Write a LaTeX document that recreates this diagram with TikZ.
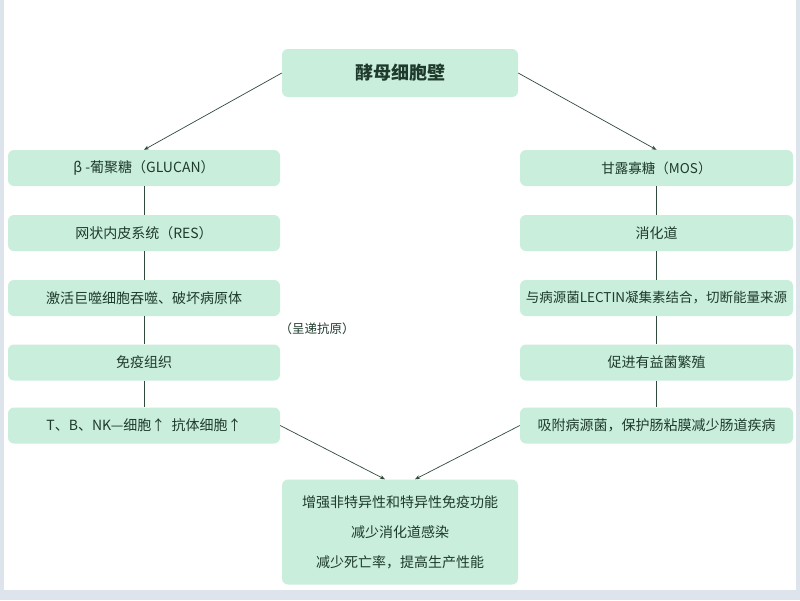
\documentclass[tikz,border=0pt]{standalone}
\usepackage{fontspec}
\setmainfont{Noto Sans CJK SC}
\usetikzlibrary{arrows.meta}
\definecolor{boxgreen}{HTML}{C9EEDC}
\definecolor{inkgreen}{HTML}{1E3A2C}
\definecolor{linegreen}{HTML}{2F4A3A}
\definecolor{framegrey}{HTML}{DDE4EC}
\begin{document}
\begin{tikzpicture}[x=1pt,y=-1pt,
  box/.style={fill=boxgreen, rounded corners=6pt, minimum width=272pt, minimum height=36pt,
    inner sep=0pt, text=inkgreen, font=\fontsize{14}{16}\selectfont},
  link/.style={draw=linegreen, line width=0.7pt},
  arrowlink/.style={link, -{Stealth[length=5pt,width=4pt]}}]
\useasboundingbox (0,0) rectangle (800,600);
\fill[framegrey] (0,0) rectangle (800,600);
\fill[white] (4,0) rectangle (796,590);

% top
\node[box, minimum width=236pt, minimum height=48pt, font=\fontsize{18}{20}\selectfont\bfseries] (wall) at (400,73) {酵母细胞壁};

% left column
\node[box] (glucan) at (144,168) {β -葡聚糖（GLUCAN）};
\node[box] (res) at (144,233) {网状内皮系统（RES）};
\node[box] (macro) at (144,298) {激活巨噬细胞吞噬、破坏病原体};
\node[box] (immune) at (144,362.5) {免疫组织};
\node[box] (cells) at (144,425.5) {T、B、NK—细胞↑\ \ 抗体细胞↑};

% right column
\node[box, minimum width=273pt, font=\fontsize{13.5}{16}\selectfont] (mos) at (656.5,168) {甘露寡糖（MOS）};
\node[box, minimum width=273pt] (gut) at (656.5,233) {消化道};
\node[box, minimum width=273pt, font=\fontsize{13.5}{16}\selectfont] (lectin) at (656.5,298) {与病源菌LECTIN凝集素结合，切断能量来源};
\node[box, minimum width=273pt] (flora) at (656.5,362.5) {促进有益菌繁殖};
\node[box, minimum width=273pt] (adsorb) at (656.5,425.5) {吸附病源菌，保护肠粘膜减少肠道疾病};

% bottom
\node[box, minimum width=236pt, minimum height=105pt, align=center,
  font=\fontsize{14}{30}\selectfont] (result) at (400,532)
  {增强非特异性和特异性免疫功能\\减少消化道感染\\减少死亡率，提高生产性能};

\node[text=inkgreen, font=\fontsize{12.5}{14}\selectfont] (antigen) at (317,329) {（呈递抗原）};

\draw[arrowlink] (wall.west) -- (glucan.north);
\draw[arrowlink] (wall.east) -- (mos.north);

\foreach \a/\b in {glucan/res,res/macro,macro/immune,immune/cells,mos/gut,gut/lectin,lectin/flora,flora/adsorb}
  \draw[link] (\a) -- (\b);

\draw[arrowlink] (cells.east) -- ([xshift=-15pt]result.north);
\draw[arrowlink] (adsorb.west) -- ([xshift=15pt]result.north);
\end{tikzpicture}
\end{document}
